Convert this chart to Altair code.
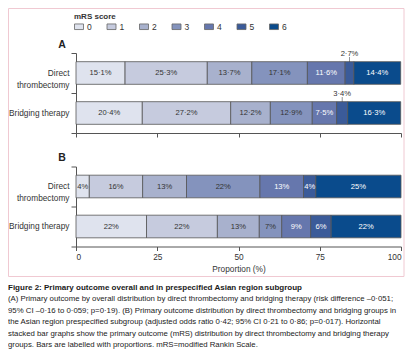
import altair as alt
import pandas as pd

FONT = "Liberation Sans, Arial, sans-serif"

groups = ["Direct thrombectomy", "Bridging therapy"]
scores = [0, 1, 2, 3, 4, 5, 6]
colors = ["#dfe3ee", "#c6cbde", "#a8b1cd", "#8493bd", "#6677ad", "#3b5b99", "#0a4b8c"]

# Panel A: overall
a_direct = [15.1, 25.3, 13.7, 17.1, 11.6, 2.7, 14.4]
a_bridging = [20.4, 27.2, 12.2, 12.9, 7.5, 3.4, 16.3]
# Panel B: Asian subgroup (bar lengths, printed labels)
b_direct = [4.1, 16.4, 13.5, 22.6, 13.4, 3.8, 26.2]
b_bridging = [21.7, 21.8, 12.9, 6.9, 8.9, 6.3, 21.5]
b_direct_labels = [4, 16, 13, 22, 13, 4, 25]
b_bridging_labels = [22, 22, 13, 7, 9, 6, 22]

caption_title = "Figure 2: Primary outcome overall and in prespecified Asian region subgroup"
caption_lines = [
    "(A) Primary outcome by overall distribution by direct thrombectomy and bridging therapy (risk difference \u20130\u00b7051;",
    "95% CI \u20130\u00b716 to 0\u00b7059; p=0\u00b719). (B) Primary outcome distribution by direct thrombectomy and bridging groups in",
    "the Asian region prespecified subgroup (adjusted odds ratio 0\u00b742; 95% CI 0\u00b721 to 0\u00b786; p=0\u00b7017). Horizontal",
    "stacked bar graphs show the primary outcome (mRS) distribution by direct thrombectomy and bridging therapy",
    "groups. Bars are labelled with proportions. mRS=modified Rankin Scale.",
]

rows = []
for g, vals in zip(groups, [a_direct, a_bridging]):
    for s, v in zip(scores, vals):
        rows.append({"panel": "A", "group": g, "score": s, "value": v,
                     "label": f"{v:.1f}".replace(".", "\u00b7") + "%",
                     "outside": s == 5})
for g, vals, labs in zip(groups, [b_direct, b_bridging], [b_direct_labels, b_bridging_labels]):
    for s, v, l in zip(scores, vals, labs):
        rows.append({"panel": "B", "group": g, "score": s, "value": v,
                     "label": f"{l}%", "outside": False})
df = pd.DataFrame(rows)
one = pd.DataFrame({"k": [0]})

legend = alt.Legend(
    title="mRS score", orient="none", legendX=-2, legendY=-40, direction="horizontal",
    symbolType="M-1,-0.62H1V0.62H-1Z", symbolSize=81, symbolStrokeColor="#666",
    symbolStrokeWidth=0.8, labelFont=FONT, labelFontSize=8.5, labelColor="#333",
    titleFont=FONT, titleFontSize=8, titleFontWeight="bold", titleColor="#333",
    titlePadding=0.5, columnPadding=12.5, labelOffset=3, padding=0,
)


def panel(pid, show_x_labels):
    base = (
        alt.Chart(df)
        .transform_filter(alt.datum.panel == pid)
        .transform_stack(stack="value", groupby=["group"],
                         sort=[alt.SortField("score", order="ascending")], as_=["v0", "v1"])
        .transform_calculate(mid="(datum.v0 + datum.v1) / 2")
    )
    y = alt.Y(
        "group:N", sort=groups,
        scale=alt.Scale(domain=groups, paddingInner=0, paddingOuter=0),
        axis=alt.Axis(
            title=None, tickBand="extent", tickSize=5, labelPadding=2,
            labelExpr="datum.label == 'Direct thrombectomy' ? ['Direct', 'thrombectomy'] : datum.label",
            labelLineHeight=12, labelFontSize=8.3, labelAlign="right",
        ),
    )
    if show_x_labels:
        xaxis = alt.Axis(values=[0, 25, 50, 75, 100], title="Proportion (%)", tickSize=4,
                         labelFontSize=8.3, titleFontSize=8.3, titleFontWeight="normal",
                         labelPadding=2, titlePadding=4, grid=False)
    else:
        xaxis = alt.Axis(values=[0, 25, 50, 75, 100], title=None, labels=False, tickSize=4, grid=False)
    xs = alt.Scale(domain=[0, 100], nice=False)
    bars = base.mark_bar(height={"band": 0.566}, stroke="#555", strokeWidth=0.8).encode(
        x=alt.X("v0:Q", scale=xs, axis=xaxis),
        x2="v1:Q",
        y=y,
        color=alt.Color("score:O", scale=alt.Scale(domain=scores, range=colors), legend=legend),
    )
    inside = base.transform_filter(alt.datum.outside == False).mark_text(
        font=FONT, fontSize=7.6
    ).encode(
        x=alt.X("mid:Q", scale=xs),
        y=alt.Y("group:N", sort=groups),
        text="label:N",
        color=alt.condition(alt.datum.score >= 4, alt.value("white"), alt.value("#333")),
    )
    layers = [bars, inside]
    if pid == "A":
        outside = base.transform_filter(alt.datum.outside == True)
        layers.append(outside.mark_text(font=FONT, fontSize=7.6, color="#333", dy=-19).encode(
            x=alt.X("mid:Q", scale=xs), y=alt.Y("group:N", sort=groups), text="label:N"))
        layers.append(outside.mark_tick(size=5, thickness=0.8, color="#444", yOffset=-13.5).encode(
            x=alt.X("mid:Q", scale=xs), y=alt.Y("group:N", sort=groups)))
        layers.append(alt.Chart(one).mark_rect(fill="transparent", stroke="#f0c9d2", strokeWidth=1).encode(
            x=alt.value(-67.5), x2=alt.value(328), y=alt.value(-44.5), y2=alt.value(223.5)))
    layers.append(alt.Chart(one).mark_text(text=pid, font=FONT, fontSize=10.5,
                                           fontWeight="bold", color="#222").encode(
        x=alt.value(-14), y=alt.value(-8 if pid == "A" else -9)))
    if pid == "B":
        layers.append(alt.Chart(one).mark_text(text=caption_title, font=FONT, fontSize=8,
                                               fontWeight="bold", color="#1a1a1a", align="left",
                                               baseline="middle").encode(
            x=alt.value(-68), y=alt.value(121)))
        for i, line in enumerate(caption_lines):
            layers.append(alt.Chart(one).mark_text(text=line, font=FONT, fontSize=7.8,
                                                   color="#222", align="left",
                                                   baseline="middle").encode(
                x=alt.value(-68), y=alt.value(132.5 + 11.5 * i)))
    return alt.layer(*layers).properties(width=325, height=80)


chart = (
    alt.vconcat(panel("A", False), panel("B", True), spacing=33.5, bounds="flush")
    .resolve_scale(y="independent")
    .properties(padding=0, background="white")
    .configure_view(stroke=None)
    .configure_axis(labelFont=FONT, titleFont=FONT, domainColor="#555", tickColor="#555",
                    labelColor="#333", titleColor="#333", domainWidth=1, tickWidth=1)
)

chart.save("out.html", embed_options={"renderer": "svg", "actions": False})
